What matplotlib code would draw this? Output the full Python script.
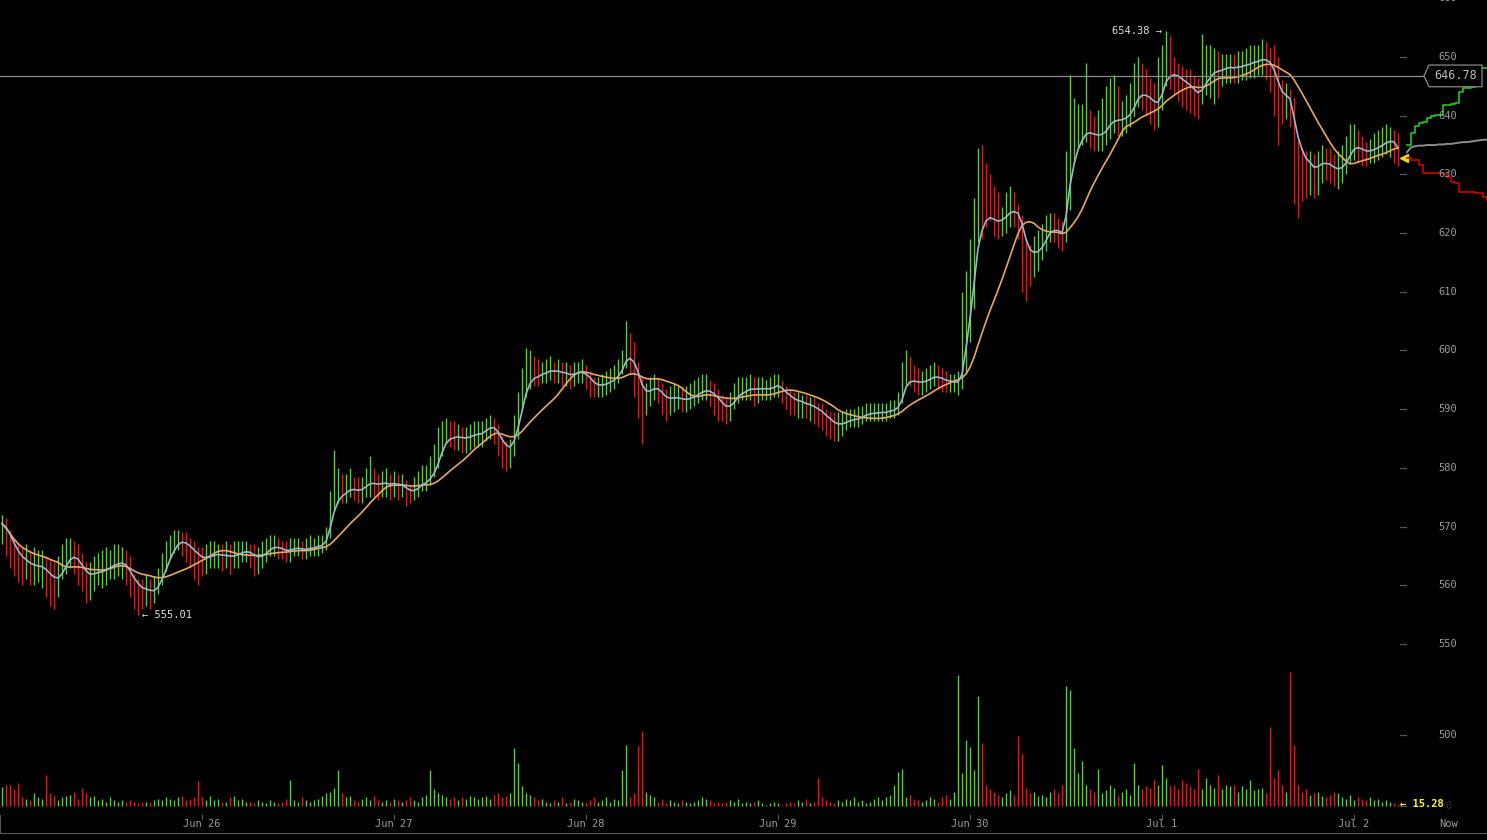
import numpy as np
import pandas as pd
import matplotlib
matplotlib.use("Agg")
import matplotlib.pyplot as plt
import matplotlib.dates as mdates
from matplotlib.transforms import blended_transform_factory, offset_copy
from matplotlib.patches import Polygon

plt.rcParams['font.family'] = 'DejaVu Sans Mono'

# 30 minute bars, first one at Jun 24 23:00
start = "2014-06-24 23:00"

close = [
    570.5, 569, 567, 565, 564, 563.5, 563.5, 563, 563, 563,
    563, 562, 561, 560.5, 561, 563, 565, 566, 565.5, 564,
    562, 561, 561, 562, 562.5, 562.5, 563, 563.5, 564, 564,
    564, 563, 561, 559.5, 559, 558.5, 559, 558.8, 559, 560.5,
    563, 565, 567, 568, 568.5, 568, 567, 566, 565, 564.5,
    564, 564.5, 565, 565.5, 565.5, 565, 565, 564.8, 565, 565.5,
    566, 566, 565.5, 564.5, 564.5, 565, 566, 567, 567, 566.5,
    566, 565.5, 566, 566.5, 566.5, 566, 566, 566.5, 566.5, 567,
    567, 568.5, 573, 576.5, 577, 576.5, 576.5, 577, 576.5, 576,
    576.5, 577.5, 578, 577.5, 577, 577.5, 577.5, 577, 577.5, 577,
    577, 576, 575.5, 576, 577, 578, 578, 579, 580.5, 583,
    585.5, 586.5, 586, 585.5, 585.5, 585, 585, 585.5, 586, 586,
    586, 587, 587.5, 587, 585, 583, 582.5, 583, 586, 590,
    594, 597, 597, 596.5, 596, 596.5, 596.5, 597, 596.5, 596.5,
    596, 596, 595.5, 596, 596.5, 596.5, 595.5, 594.5, 593.5, 593.5,
    594, 594.5, 595, 595.5, 596.5, 598, 600.5, 599.5, 597, 594,
    591, 591.5, 593, 594, 593.5, 592, 591, 591.5, 592, 592,
    591.5, 591.5, 592, 592.5, 593, 593.5, 593.5, 593, 592, 591,
    590, 589.5, 590.5, 592, 593.5, 593.5, 593.5, 594, 593.5, 593.5,
    593.5, 593.5, 593.5, 594, 594.5, 593, 592, 591.5, 591, 591,
    591, 590.5, 590.5, 590, 589.5, 589, 588, 587.5, 587, 587,
    587.5, 588, 588.5, 588.5, 588.5, 589, 589.5, 589.5, 589.5, 589.5,
    589.5, 589.5, 590, 590, 591, 593.5, 597, 596, 595, 594.5,
    594.5, 595, 595.5, 596, 595.5, 595, 594.5, 594.5, 594.5, 594.5,
    598, 607, 613, 620, 626.5, 625, 624.5, 623.5, 622, 621.5,
    622.5, 623.5, 624.5, 624, 623, 619, 615, 614.5, 616, 617,
    618.5, 620.5, 622, 621, 620.5, 619.5, 627, 636, 637, 638,
    638, 638.5, 637.5, 636.5, 636.5, 637, 638, 640, 640, 639.5,
    639.5, 640, 641, 643, 645, 644.5, 643.5, 642.5, 641.5, 642,
    645.5, 649, 648, 647.5, 646.5, 645.5, 645, 644.5, 643.5, 643,
    645, 647, 648, 648.5, 648, 648, 648.5, 648.5, 648, 648.5,
    648.5, 649, 649, 649.5, 649.5, 650, 649.5, 648.5, 646, 643,
    641.5, 642.5, 642, 635, 631.5, 631, 630.5, 631, 630, 631.5,
    632.5, 632, 631.5, 630.5, 630.5, 631.5, 633, 635, 636, 635,
    634, 633.5, 634, 634.5, 635, 635.5, 636, 636, 635.5, 632.8,
]

high = [
    572, 571.5, 569.5, 568, 567, 566.5, 567, 566, 566.5, 566,
    566, 565, 564.5, 564, 565, 567, 568, 568, 567.5, 567,
    565.5, 564, 564, 565, 565.5, 566, 566.5, 566, 567, 567,
    566.5, 566, 565, 562, 561, 561, 562, 561, 561.5, 563,
    565.5, 567.5, 568.5, 569.5, 569.5, 569, 569, 568, 567.5, 566.5,
    566.5, 567, 567.5, 567.5, 567, 567, 567.5, 567, 567.5, 567.5,
    567.5, 567.5, 567, 567, 566.5, 567.5, 568, 568.5, 568.5, 568,
    567.5, 567.5, 568, 568, 568, 567.5, 568, 568.5, 568, 568.5,
    568.5, 570, 576, 583, 580, 579, 579, 580, 578.5, 578.5,
    578.5, 580, 582, 580, 579, 579.5, 580, 579, 579.5, 579,
    579, 578, 577, 578.5, 579.5, 580.5, 580.5, 582, 584, 587,
    588, 588.5, 588, 588, 587.5, 587, 587, 587.5, 588, 588,
    588, 588.5, 589, 588.5, 587.5, 585.5, 584.5, 585, 589, 593,
    597, 600.5, 600, 599, 598.5, 598, 598.5, 599, 598, 598.5,
    598, 598, 597.5, 598, 598, 598.5, 597.5, 596.5, 595.5, 595.5,
    596, 596.5, 597, 597.5, 598.5, 600, 605, 603, 601.5, 598,
    595.5, 594.5, 595.5, 596, 595.5, 594.5, 593.5, 594, 594.5, 594,
    594, 594, 594.5, 595, 595.5, 596, 596, 595, 594.5, 593.5,
    592.5, 592, 593, 594.5, 595.5, 595.5, 595.5, 596, 595.5, 595.5,
    595.5, 595, 595.5, 596, 596, 595, 594, 593.5, 593, 593,
    592.5, 592.5, 592, 592, 591, 591, 590, 589.5, 589.5, 589.5,
    589.5, 590, 590, 590, 590.5, 590.5, 591, 591, 591, 591,
    591, 591, 591.5, 591.5, 593, 598, 600, 599, 597.5, 597,
    596.5, 597, 597.5, 598, 597.5, 597, 596.5, 596, 596, 596.5,
    610, 613.5, 619, 626, 634.5, 635, 632, 630, 628, 627,
    624.5, 627, 628, 627, 625, 623, 619, 618, 619.5, 620.5,
    621.5, 623, 623.5, 623.5, 622.5, 622, 634, 647, 643, 642,
    642, 649, 641, 640, 641, 643, 645, 646.5, 647, 645,
    642.5, 643.5, 645.5, 649, 650, 649, 648, 646.5, 645.5, 650,
    652, 654.38, 653.5, 650, 649, 648.5, 648, 648, 647, 646.5,
    654, 652, 652, 651.5, 651, 650.5, 650.5, 650.5, 650.5, 651,
    651, 651.5, 652, 652, 652, 653, 652.5, 651.5, 652, 650,
    646, 645.5, 644.5, 643, 636, 634.5, 634, 634, 633.5, 634,
    635, 634.5, 634.5, 633.5, 634, 635, 636.5, 638.5, 638.5, 637.5,
    636.5, 635.5, 636, 637, 637.5, 638, 638.5, 638, 637.5, 637,
]

low = [
    567, 565, 563, 561.5, 560.5, 560, 561, 560, 560, 560.5,
    559.5, 558, 556.5, 556, 558, 561, 562, 563, 562, 560,
    559, 557, 557.5, 559, 560, 559.5, 560, 561, 561, 561.5,
    561, 560, 558, 556, 555.01, 556, 556.5, 556, 557, 558.5,
    560, 562.5, 564.5, 565.5, 566, 565, 564, 563, 561, 560,
    561.5, 562, 563, 563, 563, 562.5, 563, 562, 563, 563,
    564, 564, 563, 561.5, 562, 563, 564, 565, 565, 564.5,
    564.5, 564, 564, 565, 565, 564.5, 564.5, 565, 565, 565,
    565.5, 566, 568, 573, 574, 574, 574, 575, 574.5, 574,
    574, 575, 575, 575, 574.5, 575, 575, 574.5, 575, 574.5,
    575, 573.5, 574, 574.5, 575, 576, 576, 577, 578.5, 580,
    582, 584, 583.5, 583, 583, 582.5, 582.5, 583, 583.5, 583.5,
    583.5, 584.5, 585, 584, 582, 580, 579.5, 580, 582, 585,
    590, 592, 593.5, 594, 594, 594.5, 594.5, 595, 594.5, 594.5,
    594, 594, 593.5, 594, 594.5, 594.5, 593.5, 592, 592, 592,
    592, 592.5, 593, 593.5, 594.5, 596, 597, 596, 592, 588.5,
    584, 589, 590.5, 591.5, 591, 589, 588, 589, 589.5, 590,
    589.5, 589.5, 590, 590.5, 591, 591.5, 591.5, 590.5, 589, 588,
    588, 587.5, 588, 590, 591, 591.5, 591.5, 591.5, 590.5, 591,
    591.5, 591.5, 591.5, 592, 592, 591, 590, 589, 589, 588.5,
    588.5, 588.5, 588, 587.5, 587, 586.5, 585.5, 585, 584.5, 584.5,
    585.5, 586.5, 587, 587, 587, 587.5, 588, 588, 588, 588,
    588, 588, 588.5, 588.5, 589, 591, 594, 594, 593, 592.5,
    592.5, 593, 593.5, 594, 593.5, 593, 593, 593, 593, 592.5,
    593.5, 596, 601.5, 607, 618.5, 619, 621, 622, 619.5, 619,
    619.5, 620, 621, 621, 619, 610, 608.5, 611, 612.5, 613.5,
    615.5, 617, 618.5, 618.5, 617.5, 617, 618.5, 624, 632, 634.5,
    635, 635.5, 634.5, 634, 634, 634, 635, 636, 637, 636.5,
    636.5, 637, 638, 640, 641.5, 641, 640, 638.5, 637.5, 638,
    641, 645, 644.5, 643.5, 642.5, 641.5, 641, 640.5, 640, 639.5,
    642, 643.5, 643, 642, 643, 645, 645.5, 645.5, 645.5, 645.5,
    646, 646, 646.5, 646.5, 647, 647, 646, 644, 640, 635,
    638.5, 639.5, 638, 625, 622.6, 625.5, 626, 626.5, 626, 626.5,
    628.5, 629, 628.5, 628, 627.5, 628.5, 630, 632, 632.5, 632,
    631.5, 631.5, 632, 632, 632.5, 633, 633.5, 633, 632, 631.5,
]

volume = [
    135, 150, 150, 120, 160, 60, 50, 40, 90, 60,
    50, 218, 90, 70, 40, 60, 70, 80, 100, 50,
    130, 90, 60, 70, 40, 50, 30, 60, 40, 30,
    40, 30, 40, 30, 20, 30, 25, 30, 40, 50,
    40, 60, 50, 40, 60, 70, 40, 50, 60, 176,
    60, 40, 70, 40, 50, 30, 30, 60, 70, 40,
    50, 30, 30, 20, 40, 30, 20, 40, 30, 20,
    30, 50, 180, 40, 30, 60, 40, 30, 40, 50,
    70, 90, 100, 130, 250, 90, 60, 70, 40, 30,
    50, 60, 40, 70, 40, 30, 40, 30, 50, 40,
    30, 40, 60, 40, 30, 60, 80, 253, 120, 90,
    80, 60, 50, 60, 40, 60, 50, 70, 60, 50,
    60, 70, 50, 80, 90, 60, 70, 90, 410, 300,
    140, 90, 80, 60, 40, 50, 30, 20, 40, 30,
    60, 20, 30, 50, 40, 30, 20, 40, 60, 30,
    40, 60, 30, 50, 40, 253, 430, 60, 90, 422,
    528, 100, 80, 60, 30, 50, 20, 40, 30, 20,
    40, 30, 20, 30, 40, 60, 50, 40, 20, 30,
    20, 30, 40, 30, 50, 20, 30, 20, 30, 40,
    20, 10, 20, 30, 20, 10, 20, 30, 20, 40,
    30, 50, 20, 30, 200, 60, 40, 30, 20, 40,
    30, 50, 40, 60, 30, 40, 20, 30, 50, 60,
    40, 60, 80, 150, 240, 260, 60, 80, 50, 40,
    30, 40, 60, 50, 30, 60, 80, 50, 100, 922,
    230, 465, 415, 250, 774, 443, 150, 120, 100, 80,
    60, 90, 110, 80, 493, 366, 130, 90, 100, 70,
    80, 60, 100, 120, 90, 150, 845, 817, 408, 230,
    320, 150, 120, 100, 260, 90, 110, 150, 130, 80,
    100, 120, 80, 300, 150, 120, 140, 130, 180, 150,
    290, 200, 140, 150, 120, 180, 160, 140, 120, 260,
    120, 200, 150, 130, 220, 120, 150, 140, 150, 100,
    140, 120, 180, 110, 120, 130, 90, 556, 200, 250,
    150, 100, 943, 430, 150, 100, 120, 80, 90, 100,
    70, 60, 80, 100, 90, 60, 50, 80, 40, 60,
    50, 40, 60, 40, 50, 30, 40, 30, 20, 15.28,
]

# order book depth at the right edge, one step every 30 min of axis width
ask_depth = [635, 637, 638.3, 638.8, 638.9, 639.6, 640, 640.1, 640.2, 641.8, 641.9,
             642, 642.2, 644, 644.7, 644.8, 644.9, 646.5, 648.1, 648.2, 648.2]
mid_depth = [633.8, 634.6, 634.8, 634.9, 634.9, 635, 635, 635, 635.1, 635.1, 635.2,
             635.2, 635.3, 635.4, 635.5, 635.5, 635.6, 635.7, 635.8, 635.9, 635.9]
bid_depth = [632.8, 632.5, 632.4, 631.6, 630.2, 630.2, 630.2, 630.2, 630.2, 630, 629.5,
             628.7, 628.6, 627, 627, 627, 627, 626.8, 626.8, 626.1, 625.6]

cursor_price = 646.78
price_ticks = np.arange(550, 661, 10)
volume_ticks = [0, 500]

GREEN = '#66c844'
RED = '#cc2424'
GRID = '#555555'
TXT = '#9a9a9a'

W, H = 1487, 840
PX_DAY = 192.0

close = np.array(close)
high = np.array(high)
low = np.array(low)
volume = np.array(volume)

t = pd.date_range(start, periods=len(close), freq="30min")
x = mdates.date2num(t)
day0 = mdates.date2num(pd.Timestamp("2014-06-26"))
xlim = (day0 - 202 / PX_DAY, day0 + (W - 202) / PX_DAY)

up = np.r_[True, close[1:] >= close[:-1]]
colors = np.where(up, GREEN, RED)

ma_fast = pd.Series(close).ewm(span=4, adjust=False).mean()
ma_slow = pd.Series(close).rolling(15, min_periods=1).mean()

fig = plt.figure(figsize=(W / 100, H / 100), dpi=100, facecolor='black')


def box(top, bottom):
    return [0, 1 - bottom / H, 1, (bottom - top) / H]


ax = fig.add_axes(box(0, 663))
axv = fig.add_axes(box(663, 815))
axd = fig.add_axes(box(815, 833))

for a in (ax, axv, axd):
    a.set_facecolor('black')
    a.set_xlim(*xlim)
    a.set_xticks([])
    a.set_yticks([])
    for s in a.spines.values():
        s.set_visible(False)

for a in (ax, axv, axd):
    a.spines['bottom'].set_visible(True)
    a.spines['bottom'].set_color(GRID)
axd.spines['left'].set_visible(True)
axd.spines['left'].set_color(GRID)

ax.set_ylim(546.76, 659.71)
axv.set_ylim(-63.4, 1007)

# price bars + averages
ax.vlines(x, low, high, colors=colors, lw=0.95)
ax.plot(x, ma_slow, color='#e8a85c', lw=1.2)
ax.plot(x, ma_fast, color='#97b8cf', lw=1.2)

# cursor line with tag
bt = blended_transform_factory(ax.transAxes, ax.transData)
ax.plot([0, 1424 / W], [cursor_price, cursor_price], transform=bt, color='#8a8a8a', lw=0.9)
hh = 1.85
tag = Polygon([(1424 / W, cursor_price), (1429 / W, cursor_price + hh), (1482 / W, cursor_price + hh),
               (1482 / W, cursor_price - hh), (1429 / W, cursor_price - hh)],
              closed=True, transform=bt, facecolor='black', edgecolor='#8a8a8a', lw=0.9, zorder=5)
ax.add_patch(tag)
ax.text(1455.5 / W, cursor_price, f"{cursor_price:.2f}", transform=bt, ha='center', va='center',
        color='#bbbbbb', fontsize=8.5, zorder=6)

# price axis labels
for v in price_ticks:
    ax.plot([1400 / W, 1406 / W], [v, v], transform=bt, color=GRID, lw=0.9)
    ax.text(1448 / W, v, str(v), transform=bt, ha='center', va='center', color=TXT, fontsize=7.5)

# extreme labels
imax = high.argmax()
imin = low.argmin()
ax.text(x[imax], high[imax], f"{high[imax]:.2f} \u2192",
        transform=offset_copy(ax.transData, fig, x=-4, y=0, units='dots'),
        ha='right', va='center', color='#dddddd', fontsize=7.5)
ax.text(x[imin], low[imin], f"\u2190 {low[imin]:.2f}",
        transform=offset_copy(ax.transData, fig, x=4, y=0, units='dots'),
        ha='left', va='center', color='#dddddd', fontsize=7.5)

# last price marker
ax.plot(x[-1], close[-1], marker='<', color='#e0e000', ms=5.5, ls='none',
        transform=offset_copy(ax.transData, fig, x=6, y=0, units='dots'))

# order book depth
dx = x[-1] + (9 + 4 * np.arange(len(ask_depth))) / PX_DAY
ax.plot(dx, ask_depth, drawstyle='steps-post', color='#1ecc1e', lw=1.2)
ax.plot(dx, mid_depth, color='#8c8c8c', lw=1.4)
ax.plot(dx, bid_depth, drawstyle='steps-post', color='#cc0000', lw=1.2)

# volume
axv.vlines(x, 0, volume, colors=colors, lw=0.95)
bv = blended_transform_factory(axv.transAxes, axv.transData)
for v in volume_ticks:
    axv.plot([1400 / W, 1406 / W], [v, v], transform=bv, color=GRID, lw=0.9)
    axv.text(1448 / W, v, str(v), transform=bv, ha='center', va='center',
             color=TXT if v else '#333333', fontsize=7.5)
axv.text(x[-1], volume[-1], f"\u2190 {volume[-1]:.2f}",
         transform=offset_copy(axv.transData, fig, x=2, y=0, units='dots'),
         ha='left', va='center', color='#ffff00', fontsize=7.5, fontweight='bold', zorder=6)

# date strip
days = pd.date_range("2014-06-26", "2014-07-02", freq="D")
bd = blended_transform_factory(axd.transData, axd.transAxes)
for d in days:
    xd = mdates.date2num(d)
    axd.plot([xd, xd], [1, 0.78], transform=bd, color=GRID, lw=0.9)
    axd.text(xd, 0.48, f"{d:%b} {d.day}", transform=bd, ha='center', va='center',
             color=TXT, fontsize=7.5)
axd.text(day0 + (1449 - 202) / PX_DAY, 0.48, "Now", transform=bd, ha='center', va='center',
         color=TXT, fontsize=7.5)

fig.savefig("out.png", dpi=100, facecolor='black')
